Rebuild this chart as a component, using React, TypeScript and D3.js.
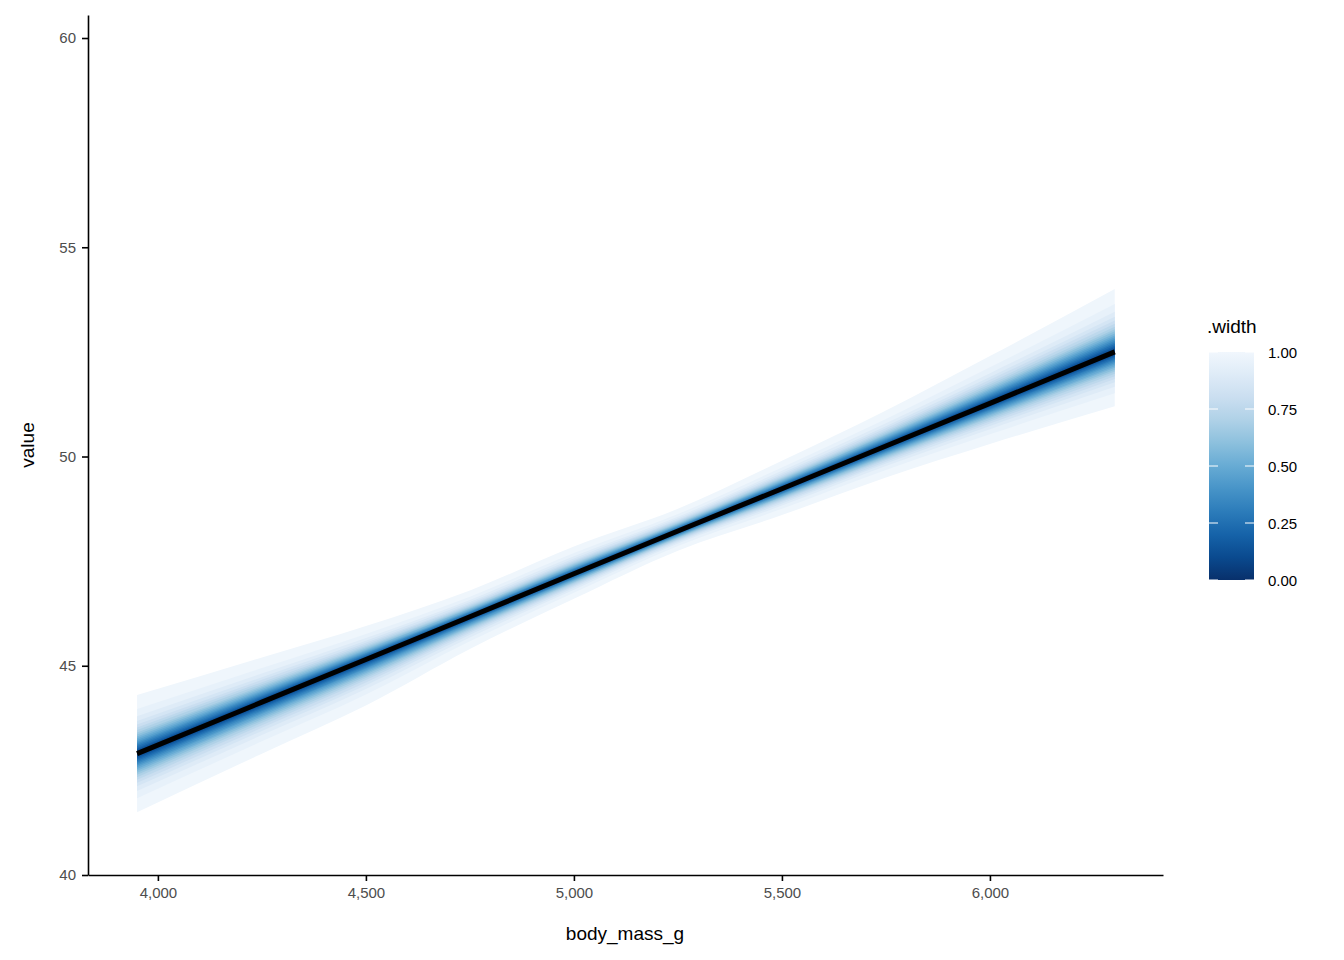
import { useEffect, useRef } from 'react';
import * as d3 from 'd3';

// outer (≈0.99) interval
const xs = [3950, 4250, 4500, 4750, 5000, 5250, 5500, 5750, 6000, 6300];
const centre = [42.9, 44.13, 45.15, 46.17, 47.2, 48.22, 49.23, 50.25, 51.27, 52.5];
const upper = [44.3, 45.2, 45.95, 46.8, 47.85, 48.75, 49.9, 51.1, 52.4, 54.0];
const lower = [41.5, 42.9, 44.05, 45.4, 46.6, 47.75, 48.6, 49.5, 50.3, 51.2];
const levels = [0.99, 0.95, 0.9, 0.85, 0.8, 0.75, 0.7, 0.65, 0.6, 0.55, 0.5, 0.45, 0.4, 0.35, 0.3, 0.25, 0.2, 0.15, 0.1, 0.05];
const spread = [1.0, 0.761, 0.639, 0.558, 0.498, 0.447, 0.402, 0.362, 0.327, 0.293, 0.262, 0.232, 0.204, 0.177, 0.15, 0.124, 0.098, 0.074, 0.049, 0.024];
const xTicks = [4000, 4500, 5000, 5500, 6000];
const yTicks = [40, 45, 50, 55, 60];
const legendTicks = [0, 0.25, 0.5, 0.75, 1];

const W = 1344, H = 960;
const FONT = '"Liberation Sans", Arial, sans-serif';

export default function App() {
  const ref = useRef<SVGSVGElement>(null);
  useEffect(() => {
    const svg = d3.select(ref.current!);
    svg.selectAll('*').remove();
    const x = d3.scaleLinear().domain([3832, 6416]).range([88, 1163]);
    const y = d3.scaleLinear().domain([40, 60.55]).range([875, 15]);
    const colour = (w: number) => d3.interpolateBlues(1 - w * 0.97);

    const g = svg.append('g');
    levels.forEach((w, li) => {
      const k = spread[li];
      const area = d3.area<number>()
        .x(i => x(xs[i]))
        .y0(i => y(centre[i] - (centre[i] - lower[i]) * k))
        .y1(i => y(centre[i] + (upper[i] - centre[i]) * k))
        .curve(d3.curveMonotoneX);
      g.append('path').attr('d', area(d3.range(xs.length))).attr('fill', colour(w));
    });
    const line = d3.line<number>().x(i => x(xs[i])).y(i => y(centre[i]));
    g.append('path').attr('d', line(d3.range(xs.length))).attr('fill', 'none')
      .attr('stroke', '#000').attr('stroke-width', 5);

    const xa = svg.append('g').attr('transform', 'translate(0,875)')
      .call(d3.axisBottom(x).tickValues(xTicks).tickSize(6).tickSizeOuter(0).tickPadding(6));
    const ya = svg.append('g').attr('transform', 'translate(88,0)')
      .call(d3.axisLeft(y).tickValues(yTicks).tickSize(6).tickSizeOuter(0).tickPadding(6));
    [xa, ya].forEach(a => {
      a.selectAll('path,line').attr('stroke', '#000').attr('stroke-width', 1.6);
      a.selectAll('text').attr('font-family', FONT).attr('font-size', 15).attr('fill', '#4d4d4d');
    });

    svg.append('text').attr('x', 625).attr('y', 940).attr('text-anchor', 'middle')
      .attr('font-family', FONT).attr('font-size', 19).text('body_mass_g');
    svg.append('text').attr('transform', 'translate(34,445) rotate(-90)').attr('text-anchor', 'middle')
      .attr('font-family', FONT).attr('font-size', 19).text('value');

    // legend
    const lg = svg.append('g');
    lg.append('text').attr('x', 1207).attr('y', 333).attr('font-family', FONT).attr('font-size', 19).text('.width');
    const ly = d3.scaleLinear().domain([0, 1]).range([580, 352]);
    const grad = svg.append('defs').append('linearGradient').attr('id', 'lgd')
      .attr('x1', 0).attr('y1', 1).attr('x2', 0).attr('y2', 0);
    d3.range(0, 1.001, 0.1).forEach(t => grad.append('stop').attr('offset', t).attr('stop-color', colour(t)));
    lg.append('rect').attr('x', 1209).attr('y', 352).attr('width', 45).attr('height', 228).attr('fill', 'url(#lgd)');
    legendTicks.forEach(t => {
      lg.append('line').attr('x1', 1209).attr('x2', 1218).attr('y1', ly(t)).attr('y2', ly(t)).attr('stroke', '#fff');
      lg.append('line').attr('x1', 1245).attr('x2', 1254).attr('y1', ly(t)).attr('y2', ly(t)).attr('stroke', '#fff');
      lg.append('text').attr('x', 1268).attr('y', ly(t) + 6).attr('font-family', FONT).attr('font-size', 15)
        .attr('fill', '#000').text(t.toFixed(2));
    });
  }, []);
  return <svg ref={ref} width={W} height={H} style={{ position: 'absolute', left: 0, top: 0, background: '#fff' }} />;
}
